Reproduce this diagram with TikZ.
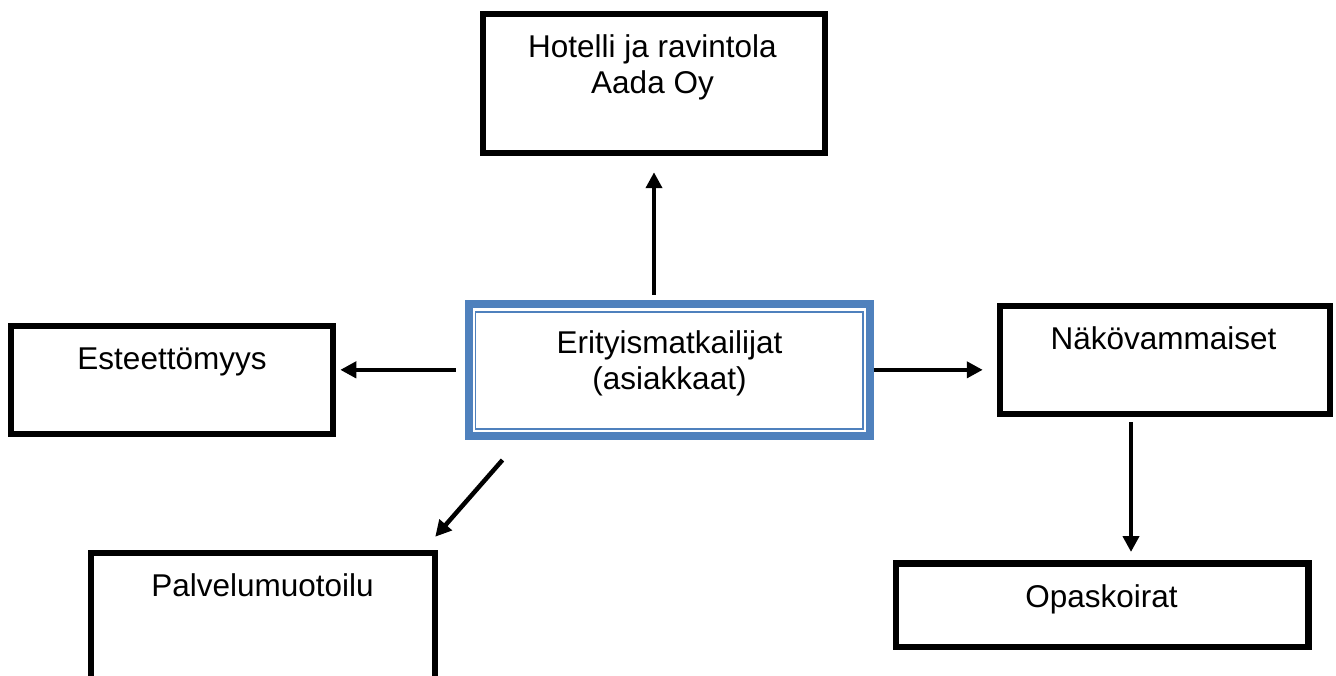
\documentclass[tikz,border=0pt]{standalone}
\usepackage{fontspec}
\setmainfont{Liberation Sans}
\usetikzlibrary{arrows.meta}
\definecolor{officeblue}{HTML}{4F81BD}
\tikzset{
  box/.style={draw=black, line width=6.5pt, fill=none, inner sep=0pt, rectangle},
  centerbox/.style={draw=officeblue, line width=8pt, inner sep=0pt, rectangle},
  innerline/.style={draw=officeblue, line width=1.6pt},
  lbl/.style={anchor=base, inner sep=0pt, font=\fontsize{31.5}{39}\selectfont},
  arr/.style={draw=black, line width=4.5pt, -{Triangle[length=16pt,width=16pt]}},
}
\begin{document}
\begin{tikzpicture}[x=1pt,y=-1pt]
\useasboundingbox (0,0) rectangle (1336,676);
% boxes (centre-line sizes)
\node[box, minimum width=342pt, minimum height=139pt] (hotel) at (654,83.5) {};
\node[box, minimum width=322pt, minimum height=108pt] (este) at (172,380) {};
\node[box, minimum width=344pt, minimum height=150pt] (palv) at (263,628) {};
\node[box, minimum width=330pt, minimum height=107.5pt] (nako) at (1165,360) {};
\node[box, minimum width=412.5pt, minimum height=83.5pt] (opas) at (1102.25,605) {};
\node[centerbox, minimum width=401pt, minimum height=132.3pt] (center) at (669,369.85) {};
\draw[innerline] (475.3,312) rectangle (863,429);
% texts
\node[lbl] (hotelA) at (652.5,57.5) {Hotelli ja ravintola};
\node[lbl] (hotelB) at (652.5,94) {Aada Oy};
\node[lbl] (centerA) at (669.5,353) {Erityismatkailijat};
\node[lbl] (centerB) at (669.5,389) {(asiakkaat)};
\node[lbl] (esteT) at (172,369) {Esteettömyys};
\node[lbl] (palvT) at (262.5,596) {Palvelumuotoilu};
\node[lbl] (nakoT) at (1163.5,349) {Näkövammaiset};
\node[lbl] (opasT) at (1101.5,607) {Opaskoirat};
% connectors
\draw[arr, shorten <=5pt, shorten >=16pt] (center.north -| hotel.south) -- (hotel.south);
\draw[arr, shorten <=9pt, shorten >=4pt] (center.west) -- (center.west -| este.east);
\draw[arr, shorten <=0pt, shorten >=14pt] (center.east) -- (center.east -| nako.west);
\draw[arr, shorten <=5pt, shorten >=8pt] ([xshift=-34pt]nako.south) -- ([xshift=-34pt]nako.south |- opas.north);
\draw[arr] ([shift={(38,20)}]center.south west) -- ([shift={(-3,-13)}]palv.north east);
\end{tikzpicture}
\end{document}
